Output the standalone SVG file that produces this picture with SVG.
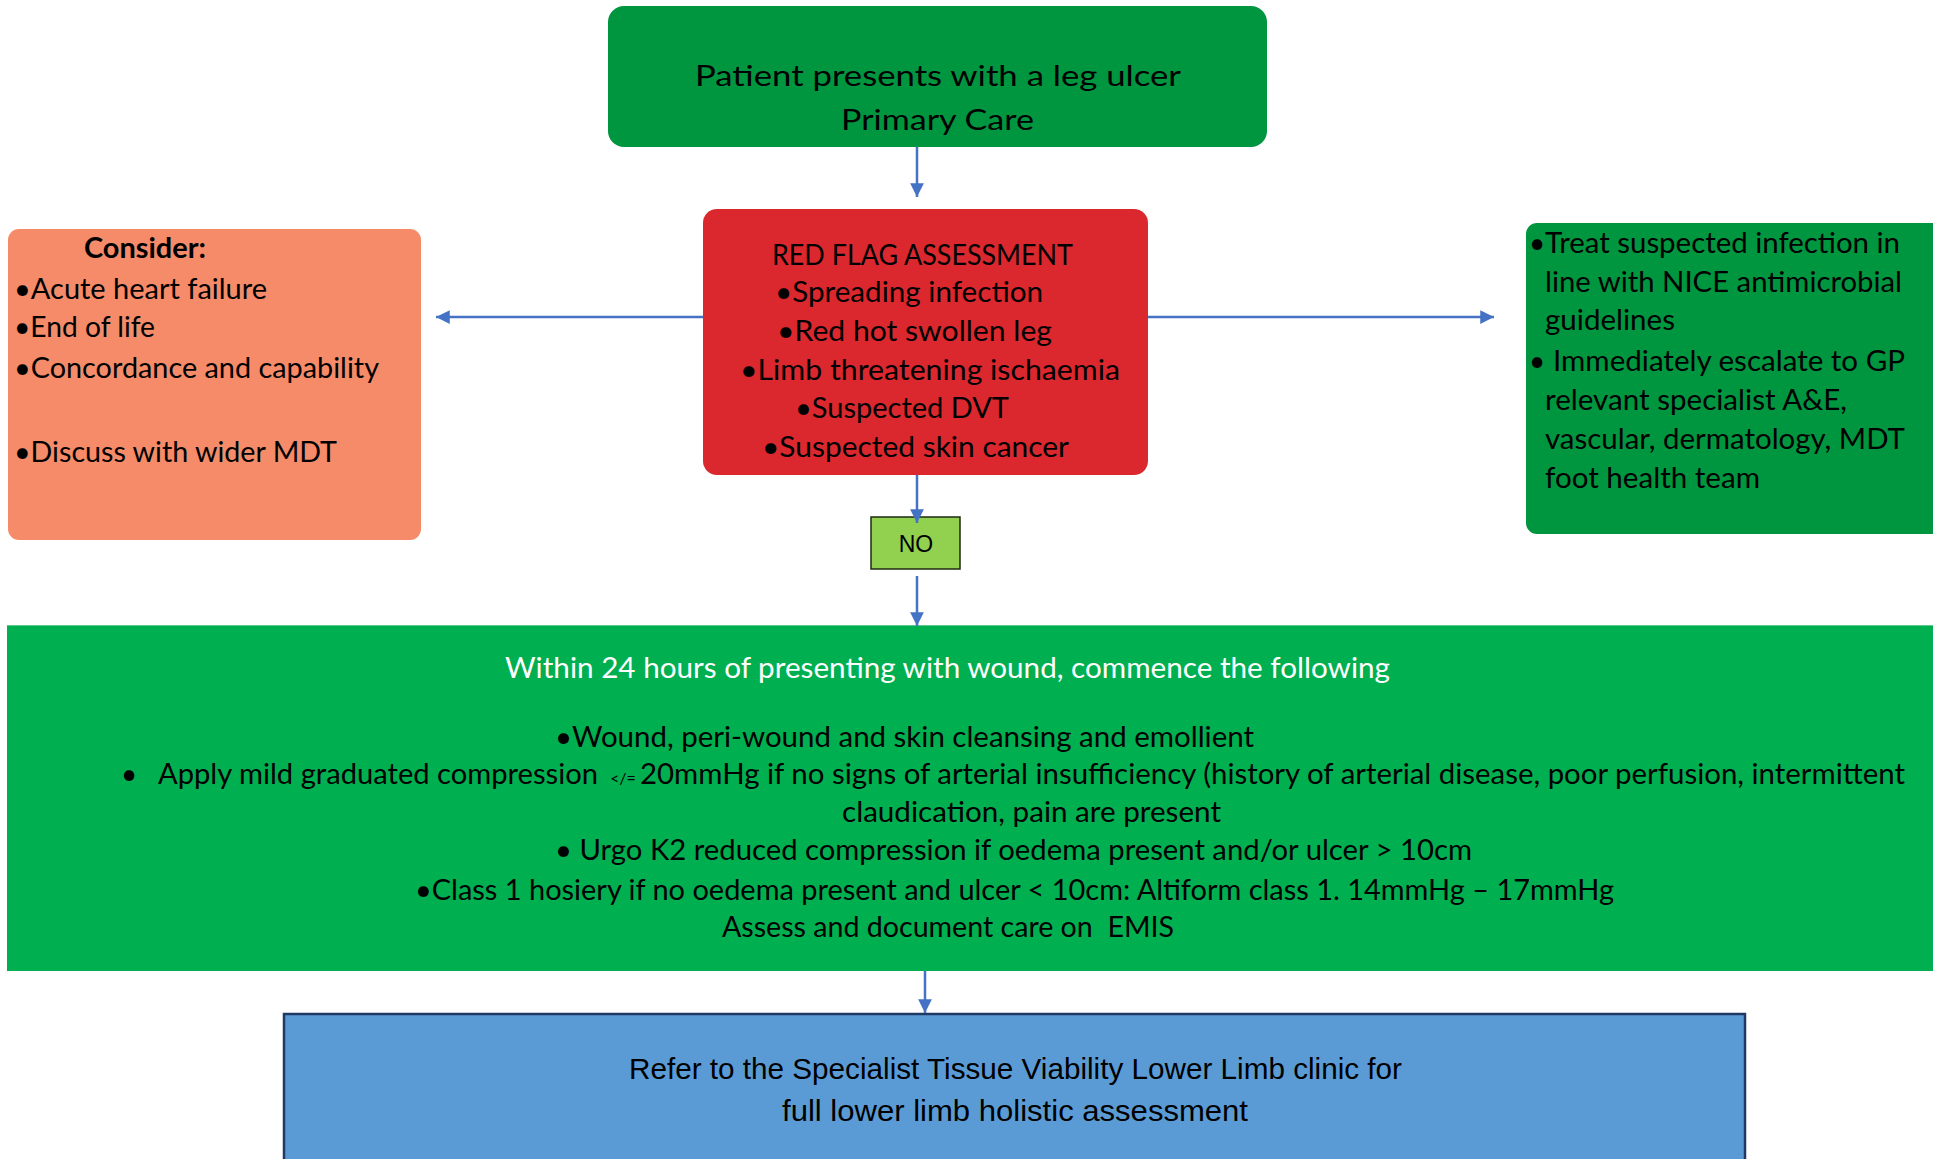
<svg xmlns="http://www.w3.org/2000/svg" width="1933" height="1159" viewBox="0 0 1933 1159">
<style>
.t{font-family:Lato,"Open Sans","Liberation Sans",sans-serif;font-size:28px;fill:#000}
.w{fill:#fff}
.a{font-family:"Liberation Sans",Arial,sans-serif;fill:#000}
.ln{stroke:#4472C4;stroke-width:2.5;fill:none}
</style>
<defs>
<marker id="ah" viewBox="0 0 10 10" refX="10" refY="5" markerWidth="6" markerHeight="5.5" markerUnits="strokeWidth" orient="auto">
<path d="M0,0 L10,5 L0,10 z" fill="#4472C4"/>
</marker>
</defs>
<rect width="1933" height="1159" fill="#fff"/>

<g id="start">
<rect x="608" y="6" width="659" height="141" rx="16" fill="#00963F"/>
<text class="t" x="695" y="86" font-size="35" textLength="486" lengthAdjust="spacingAndGlyphs">Patient presents with a leg ulcer</text>
<text class="t" x="841" y="130" font-size="35" textLength="193" lengthAdjust="spacingAndGlyphs">Primary Care</text>
</g>

<g id="redflag">
<rect x="703" y="209" width="445" height="266" rx="14" fill="#DA282E"/>
<text class="t" x="772" y="265" textLength="301" lengthAdjust="spacingAndGlyphs">RED FLAG ASSESSMENT</text>
<text class="t" x="775" y="302" textLength="268" lengthAdjust="spacingAndGlyphs">•Spreading  infection</text>
<text class="t" x="777" y="341" textLength="275" lengthAdjust="spacingAndGlyphs">•Red  hot  swollen  leg</text>
<text class="t" x="740" y="380" textLength="380" lengthAdjust="spacingAndGlyphs">•Limb  threatening  ischaemia</text>
<text class="t" x="795" y="418" textLength="214" lengthAdjust="spacingAndGlyphs">•Suspected  DVT</text>
<text class="t" x="762" y="457" textLength="307" lengthAdjust="spacingAndGlyphs">•Suspected  skin  cancer</text>
</g>

<g id="consider">
<rect x="8" y="229" width="413" height="311" rx="11" fill="#F58B69"/>
<text class="t" x="84" y="258" font-weight="bold" textLength="122" lengthAdjust="spacingAndGlyphs">Consider:</text>
<text class="t" x="14" y="299" textLength="253" lengthAdjust="spacingAndGlyphs">•Acute heart failure</text>
<text class="t" x="14" y="337" textLength="141" lengthAdjust="spacingAndGlyphs">•End of life</text>
<text class="t" x="14" y="378" textLength="365" lengthAdjust="spacingAndGlyphs">•Concordance and capability</text>
<text class="t" x="14" y="462" textLength="323" lengthAdjust="spacingAndGlyphs">•Discuss with wider MDT</text>
</g>

<g id="treat">
<rect x="1526" y="223" width="430" height="311" rx="11" fill="#00963F"/>
<text class="t" x="1529" y="253">•</text>
<text class="t" x="1545" y="253" textLength="355" lengthAdjust="spacingAndGlyphs">Treat suspected infection in</text>
<text class="t" x="1545" y="292" textLength="357" lengthAdjust="spacingAndGlyphs">line with NICE antimicrobial</text>
<text class="t" x="1545" y="330" textLength="130" lengthAdjust="spacingAndGlyphs">guidelines</text>
<text class="t" x="1529" y="371">•</text>
<text class="t" x="1553" y="371" textLength="352" lengthAdjust="spacingAndGlyphs">Immediately escalate to GP</text>
<text class="t" x="1545" y="410" textLength="302" lengthAdjust="spacingAndGlyphs">relevant specialist A&amp;E,</text>
<text class="t" x="1545" y="449" textLength="360" lengthAdjust="spacingAndGlyphs">vascular, dermatology, MDT</text>
<text class="t" x="1545" y="488" textLength="215" lengthAdjust="spacingAndGlyphs">foot health team</text>
</g>

<g id="no">
<rect x="871" y="517" width="89" height="52" fill="#92D050" stroke="#1E2A10" stroke-width="1.5"/>
<text class="a" x="916" y="552" font-size="23" text-anchor="middle">NO</text>
</g>

<g id="within">
<rect x="7" y="625" width="1926" height="346" fill="#00B050"/>
<line x1="7" y1="625.5" x2="1933" y2="625.5" stroke="#5CC98A" stroke-width="1"/>
<text class="t w" x="505" y="678" textLength="885" lengthAdjust="spacingAndGlyphs">Within 24 hours of presenting with wound, commence the following</text>
<text class="t" x="555" y="747" textLength="699" lengthAdjust="spacingAndGlyphs">•Wound, peri-wound and skin cleansing and emollient</text>
<text class="t" y="784"><tspan x="121">•</tspan><tspan x="158" textLength="440" lengthAdjust="spacingAndGlyphs">Apply mild graduated compression</tspan><tspan x="610" font-size="16">&lt;/=</tspan><tspan x="640" textLength="1265" lengthAdjust="spacingAndGlyphs">20mmHg if no signs of arterial insufficiency (history of arterial disease, poor perfusion, intermittent</tspan></text>
<text class="t" x="842" y="822" textLength="379" lengthAdjust="spacingAndGlyphs">claudication, pain are present</text>
<text class="t" x="555" y="860" textLength="917" lengthAdjust="spacingAndGlyphs">• Urgo K2 reduced compression if oedema present and/or ulcer &gt; 10cm</text>
<text class="t" x="415" y="900" textLength="1199" lengthAdjust="spacingAndGlyphs">•Class 1 hosiery if no oedema present and ulcer &lt; 10cm: Altiform class 1. 14mmHg – 17mmHg</text>
<text class="t" x="722" y="937" textLength="452" lengthAdjust="spacingAndGlyphs" xml:space="preserve">Assess and document care on  EMIS</text>
</g>

<g id="refer">
<rect x="284" y="1014" width="1461" height="160" fill="#5B9BD5" stroke="#1F3864" stroke-width="2.5"/>
<text class="a" x="629" y="1079" font-size="29" textLength="773" lengthAdjust="spacingAndGlyphs">Refer to the Specialist Tissue Viability Lower Limb clinic for</text>
<text class="a" x="782" y="1121" font-size="29" textLength="466" lengthAdjust="spacingAndGlyphs">full lower limb holistic assessment</text>
</g>

<g id="connectors">
<line class="ln" x1="917" y1="147" x2="917" y2="197" marker-end="url(#ah)"/>
<line class="ln" x1="703" y1="317" x2="436" y2="317" marker-end="url(#ah)"/>
<line class="ln" x1="1148" y1="317" x2="1494" y2="317" marker-end="url(#ah)"/>
<line class="ln" x1="917" y1="475" x2="917" y2="523" marker-end="url(#ah)"/>
<line class="ln" x1="917" y1="576" x2="917" y2="626" marker-end="url(#ah)"/>
<line class="ln" x1="925" y1="971" x2="925" y2="1013" marker-end="url(#ah)"/>
</g>
</svg>
